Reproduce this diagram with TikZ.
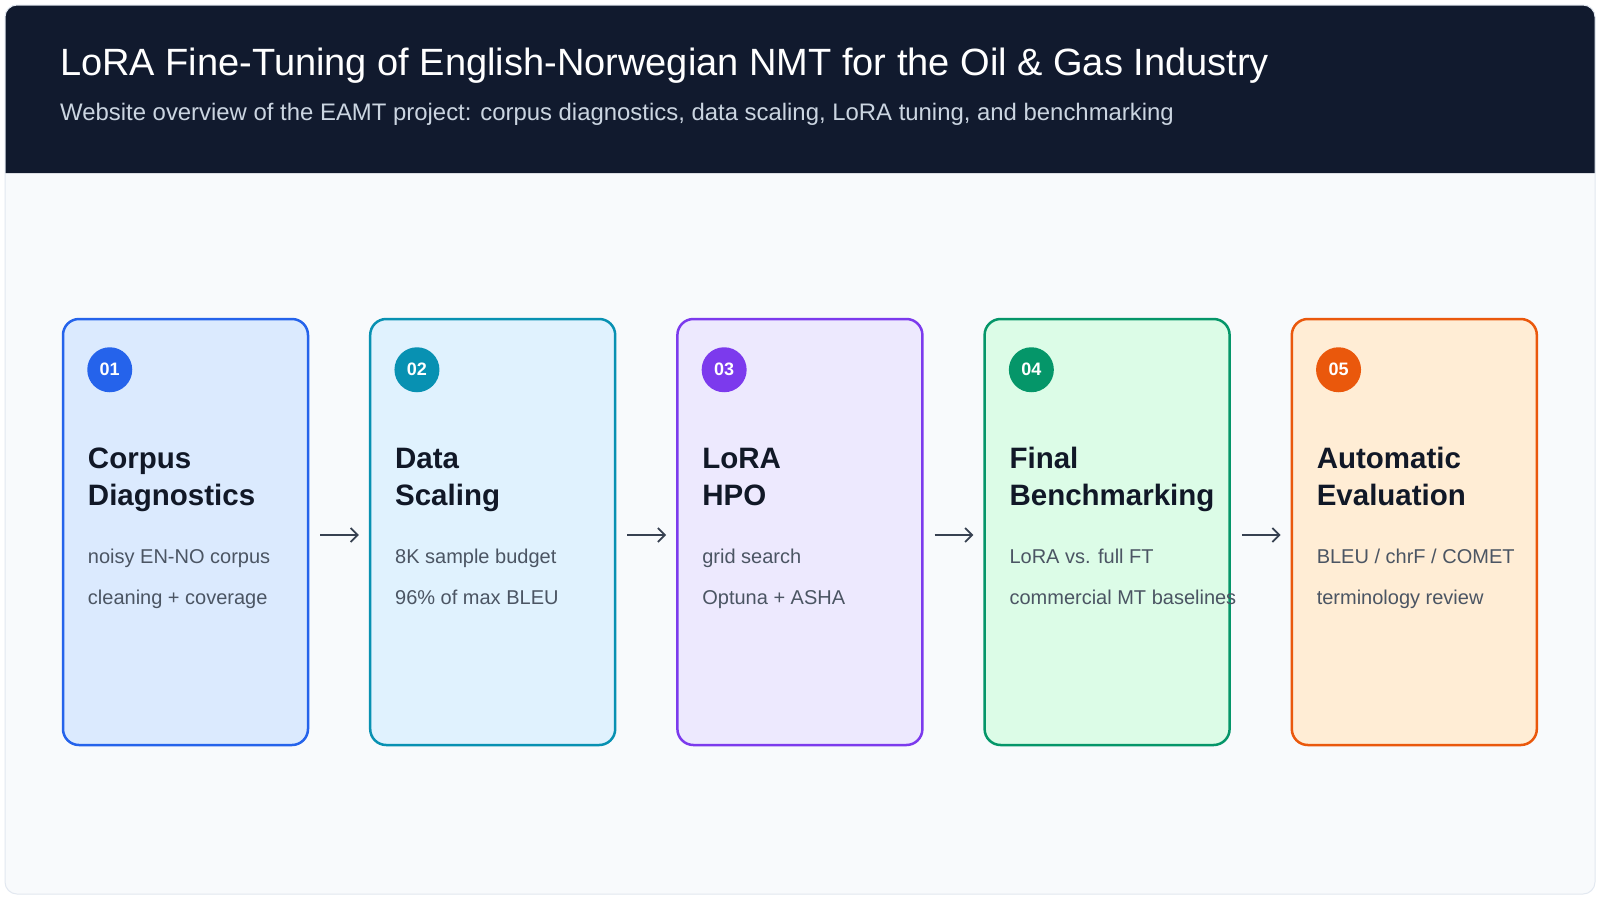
\documentclass[tikz,border=0pt]{standalone}
\usepackage{fontspec}
\setmainfont{Liberation Sans}
\usetikzlibrary{arrows.meta}
\definecolor{navy}{HTML}{111A2E}
\definecolor{bodybg}{HTML}{F8FAFC}
\definecolor{outline}{HTML}{E2E8F0}
\definecolor{subtitlecol}{HTML}{CBD5E1}
\definecolor{headcol}{HTML}{111827}
\definecolor{textcol}{HTML}{4B5563}
\definecolor{arrowcol}{HTML}{374151}
\definecolor{bA}{HTML}{2563EB}\definecolor{fA}{HTML}{DBEAFE}
\definecolor{bB}{HTML}{0891B2}\definecolor{fB}{HTML}{E0F2FE}
\definecolor{bC}{HTML}{7C3AED}\definecolor{fC}{HTML}{EDE9FE}
\definecolor{bD}{HTML}{059669}\definecolor{fD}{HTML}{DCFCE7}
\definecolor{bE}{HTML}{EA580C}\definecolor{fE}{HTML}{FFEDD5}
\tikzset{
  card/.style 2 args={draw=#1, fill=#2, line width=2.5pt, rounded corners=16pt,
    minimum width=245pt, minimum height=426pt, inner sep=0pt},
  badge/.style={circle, fill=#1, minimum size=45pt, inner sep=0pt, text=white,
    font=\fontsize{18}{21}\selectfont\bfseries},
  cardtitle/.style={anchor=base west, inner sep=0pt, text=headcol,
    font=\fontsize{29.5}{35}\selectfont\bfseries},
  cardtext/.style={anchor=base west, inner sep=0pt, text=textcol,
    font=\fontsize{20}{24}\selectfont},
  flow/.style={draw=arrowcol, line width=1.8pt, shorten <=11pt, shorten >=10pt,
    -{Straight Barb[length=7pt,width=14pt,line width=1.8pt]}},
}
\begin{document}
\begin{tikzpicture}[x=1pt,y=-1pt]
\useasboundingbox (0,0) rectangle (1600,900);
\fill[white] (0,0) rectangle (1600,900);
% outer panel
\fill[bodybg, rounded corners=12pt] (5,5) rectangle (1595,894);
\fill[navy] (5,173) -- (5,17) arc[start angle=180,end angle=270,radius=12]
  -- (1583,5) arc[start angle=270,end angle=360,radius=12] -- (1595,173) -- cycle;
\draw[outline, line width=1pt, rounded corners=12pt] (5,5) rectangle (1595,894);
% header texts
\node[anchor=base west, inner sep=0pt, text=white, font=\fontsize{38}{45}\selectfont] (title) at (60,75)
  {LoRA Fine-Tuning of English-Norwegian NMT for the Oil \& Gas Industry};
\node[anchor=base west, inner sep=0pt, text=subtitlecol, font=\fontsize{23.9}{28}\selectfont] (subtitle) at (60,120)
  {Website overview of the EAMT project: corpus diagnostics, data scaling, LoRA tuning, and benchmarking};
% cards
\foreach \i/\cx/\bc/\fc/\num/\ta/\tb/\sa/\sb in {
  1/185.5/bA/fA/01/Corpus/Diagnostics/{noisy EN-NO corpus}/{cleaning + coverage},
  2/492.7/bB/fB/02/Data/Scaling/{8K sample budget}/{96\% of max BLEU},
  3/799.9/bC/fC/03/LoRA/HPO/{grid search}/{Optuna + ASHA},
  4/1107.1/bD/fD/04/Final/Benchmarking/{LoRA vs. full FT}/{commercial MT baselines},
  5/1414.3/bE/fE/05/Automatic/Evaluation/{BLEU / chrF / COMET}/{terminology review}}{
  \node[card={\bc}{\fc}] (c\i) at (\cx,532) {};
  \node[badge=\bc] (n\i) at ([shift={(48pt,-52pt)}]c\i.north west) {\num};
  \node[cardtitle] (ta\i) at ([shift={(26pt,-151pt)}]c\i.north west) {\ta};
  \node[cardtitle] (tb\i) at ([shift={(26pt,-188pt)}]c\i.north west) {\tb};
  \node[cardtext] (sa\i) at ([shift={(26pt,-246pt)}]c\i.north west) {\sa};
  \node[cardtext] (sb\i) at ([shift={(26pt,-287pt)}]c\i.north west) {\sb};
}
% arrows
\foreach \a/\b in {1/2,2/3,3/4,4/5}{
  \draw[flow] ([yshift=-3pt]c\a.east) -- ([yshift=-3pt]c\b.west);
}
\end{tikzpicture}
\end{document}
